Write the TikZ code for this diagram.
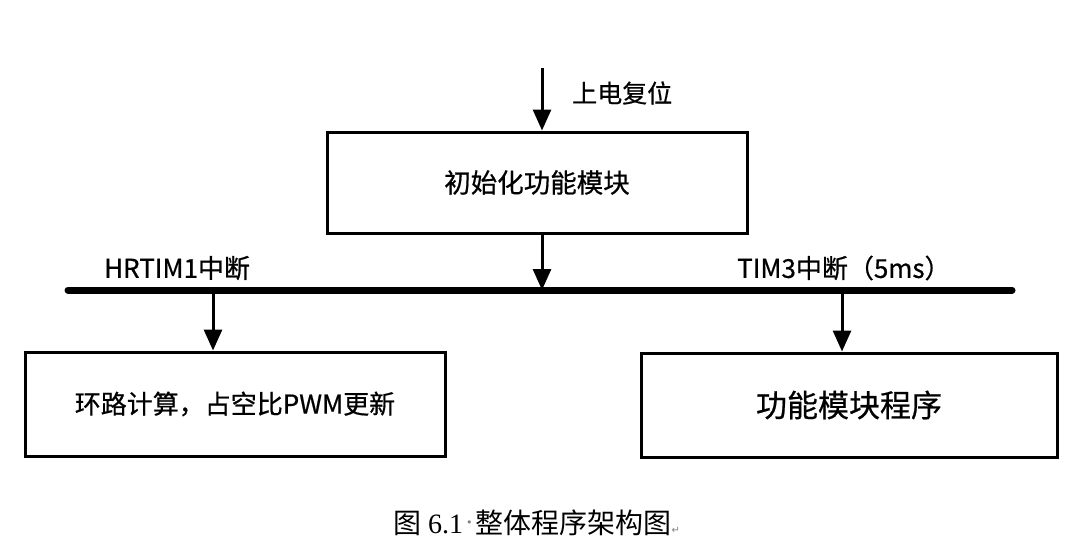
\documentclass[tikz,border=0pt]{standalone}
\usepackage{fontspec}
\setmainfont{Noto Sans CJK SC}[FakeBold=0.6]
\newfontfamily\capfont{Liberation Serif}
\newfontfamily\capcjk{Noto Sans CJK SC}
\newfontfamily\symfont{DejaVu Sans}
\usetikzlibrary{arrows.meta}
\tikzset{
  blockbox/.style={draw=black, line width=3pt, minimum width=#1, inner sep=0pt},
  arr/.style={line width=3pt, -{Triangle[length=21pt,width=18pt]}},
  bus/.style={line width=7pt, line cap=round},
  lbl/.style={inner sep=0pt, anchor=west, font=\fontsize{26}{28}\selectfont},
}
\begin{document}
\begin{tikzpicture}[x=1pt,y=-1pt]
\useasboundingbox (0,0) rectangle (1083,546);
% boxes
\node[blockbox=420pt, minimum height=101pt, font=\fontsize{26.5}{30}\selectfont] (init) at (537,182.5) {初始化功能模块};
\node[blockbox=420pt, minimum height=104pt, font=\fontsize{26}{30}\selectfont] (loop) at (235,404) {环路计算，占空比PWM更新};
\node[blockbox=416pt, minimum height=104pt, font=\fontsize{31}{35}\selectfont] (func) at (849,405) {功能模块程序};
% bus
\coordinate (busL) at (68,290);
\coordinate (busR) at (1012,290);
\draw[bus] (busL) -- (busR);
% arrow start points
\coordinate (src) at (542,68);
\coordinate (xL) at (213,290);
\coordinate (xR) at (842,290);
\draw[arr] (src) -- (src |- init.north);
\draw[arr] (init.south -| src) -- (src |- busL);
\draw[arr] (xL) -- (xL |- loop.north);
\draw[arr] (xR) -- (xR |- func.north);
% labels
\node[lbl, font=\fontsize{25}{27}\selectfont] (reset) at (572,93) {上电复位};
\node[lbl] (hr) at (104,268) {HRTIM1中断};
\node[lbl] (tim) at (737,268) {TIM3中断（5ms）};
% caption
\node[inner sep=0pt, font=\fontsize{28}{32}\selectfont\capcjk] (cap) at (537,523)
  {图 {\capfont 6.1}\hspace{3pt}\raisebox{7pt}{\textcolor{gray}{\fontsize{11}{11}\selectfont\symfont •}}\hspace{3pt}整体程序架构图\textcolor{gray}{\fontsize{10}{10}\selectfont\symfont ↵}};
\end{tikzpicture}
\end{document}
